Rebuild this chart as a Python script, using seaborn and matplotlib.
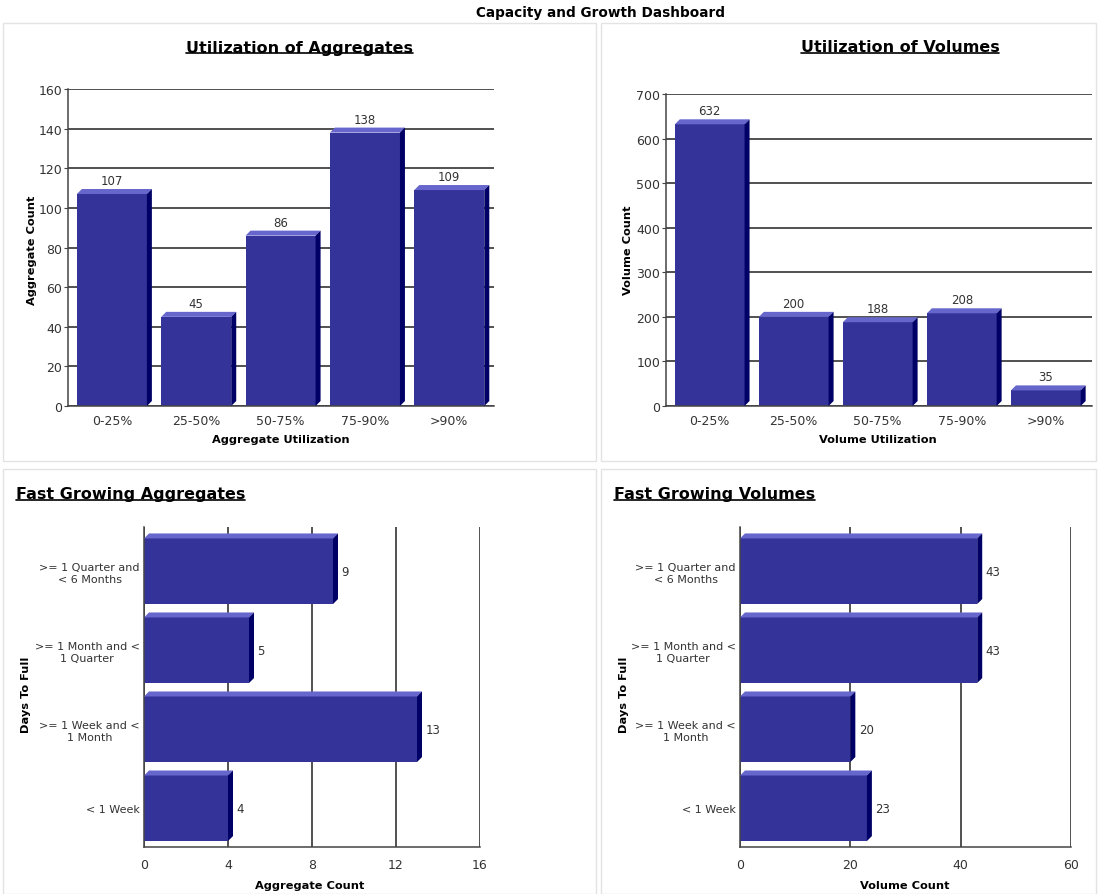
import seaborn as sns
import matplotlib.pyplot as plt
from matplotlib.patches import Polygon, Rectangle
from matplotlib.lines import Line2D

# --- data ---
util_bins = ["0-25%", "25-50%", "50-75%", "75-90%", ">90%"]
aggr_util = [107, 45, 86, 138, 109]
vol_util = [632, 200, 188, 208, 35]

days_bins = [">= 1 Quarter and\n< 6 Months", ">= 1 Month and <\n1 Quarter",
             ">= 1 Week and <\n1 Month", "< 1 Week"]
aggr_growth = [9, 5, 13, 4]
vol_growth = [43, 43, 20, 23]

FRONT = "#333399"
TOP = "#6666cc"
SIDE = "#000066"
TXT = "#333333"

sns.set_style("white")
plt.rcParams["font.family"] = ["DejaVu Sans"]

W, H = 1099, 895
fig = plt.figure(figsize=(W / 100, H / 100), dpi=100)


def fx(x):
    return x / W


def fy(y):
    return 1 - y / H


def px_axes(l, t, r, b):
    return fig.add_axes([fx(l), fy(b), (r - l) / W, (b - t) / H])


def add_depth(ax, d=5):
    # fake the 3D look: light top face + dark right face on every bar
    pos = ax.get_position()
    x0, x1 = ax.get_xlim()
    y0, y1 = ax.get_ylim()
    dx = d * (x1 - x0) / (pos.width * W)
    dy = d * (y1 - y0) / (pos.height * H)
    for p in list(ax.patches):
        p.set_linewidth(0)
        x, y, w, h = p.get_x(), p.get_y(), p.get_width(), p.get_height()
        yt, yb = (y + h, y) if dy > 0 else (y, y + h)
        ax.add_patch(Polygon([(x, yt), (x + w, yt), (x + w + dx, yt + dy), (x + dx, yt + dy)],
                             closed=True, fc=TOP, ec="none", lw=0, zorder=3))
        ax.add_patch(Polygon([(x + w, yb), (x + w, yt), (x + w + dx, yt + dy), (x + w + dx, yb + dy)],
                             closed=True, fc=SIDE, ec="none", lw=0, zorder=3))


# panel frames
for (l, t, r, b) in [(3, 24, 596, 462), (601, 24, 1096, 462), (3, 470, 596, 895), (601, 470, 1096, 895)]:
    fig.add_artist(Rectangle((fx(l), fy(b)), (r - l) / W, (b - t) / H, transform=fig.transFigure,
                             fill=False, ec="#e3e3e3", lw=1))

fig.text(fx(601), fy(13), "Capacity and Growth Dashboard", ha="center", va="center",
         fontsize=9.8, fontweight="bold", color="black")


def vertical_panel(ax, values, yticks, ylim, xlim):
    sns.barplot(x=util_bins, y=values, color=FRONT, saturation=1, width=0.83, ax=ax,
                zorder=2, linewidth=0)
    ax.set_ylim(*ylim)
    ax.set_xlim(*xlim)
    ax.set_yticks(yticks)
    ax.yaxis.grid(True, color="#222222", lw=1.1)
    ax.set_axisbelow(True)
    for s in ["top", "right"]:
        ax.spines[s].set_visible(False)
    for s in ["left", "bottom"]:
        ax.spines[s].set_color("#444444")
        ax.spines[s].set_linewidth(1.1)
    ax.tick_params(axis="x", length=0, pad=6, labelsize=9, labelcolor=TXT)
    ax.tick_params(axis="y", left=True, length=3, pad=1, labelsize=9, labelcolor=TXT, color="#444444")
    ax.set_xlabel("")
    ax.set_ylabel("")
    add_depth(ax)
    ax.bar_label(ax.containers[0], padding=5, fontsize=8.5, color=TXT)


def horizontal_panel(ax, values, xticks, xlim):
    sns.barplot(x=values, y=days_bins, orient="h", color=FRONT, saturation=1, width=0.83, ax=ax,
                zorder=2, linewidth=0)
    ax.set_xlim(*xlim)
    ax.set_ylim(3.49, -0.56)
    ax.set_xticks(xticks)
    ax.xaxis.grid(True, color="#222222", lw=1.1)
    ax.set_axisbelow(True)
    for s in ["top", "right"]:
        ax.spines[s].set_visible(False)
    for s in ["left", "bottom"]:
        ax.spines[s].set_color("#444444")
        ax.spines[s].set_linewidth(1.1)
    ax.tick_params(axis="x", length=0, pad=8, labelsize=9, labelcolor=TXT)
    ax.tick_params(axis="y", length=0, pad=3, labelsize=8, labelcolor=TXT)
    for lab in ax.get_yticklabels():
        lab.set_multialignment("center")
    ax.set_xlabel("")
    ax.set_ylabel("")
    add_depth(ax)
    ax.bar_label(ax.containers[0], padding=6, fontsize=8.5, color=TXT)


ax1 = px_axes(68, 90, 494, 407)
vertical_panel(ax1, aggr_util, range(0, 161, 20), (0, 160), (-0.52, 4.53))
ax2 = px_axes(666, 95, 1092, 407)
vertical_panel(ax2, vol_util, range(0, 701, 100), (0, 700), (-0.52, 4.55))
ax3 = px_axes(144, 528, 480, 848)
horizontal_panel(ax3, aggr_growth, range(0, 17, 4), (0, 16))
ax4 = px_axes(740, 528, 1071, 848)
horizontal_panel(ax4, vol_growth, range(0, 61, 20), (0, 60))

# axis titles
lab = dict(fontsize=8.2, fontweight="bold", color="black")
fig.text(fx(32), fy(250), "Aggregate Count", rotation=90, ha="center", va="center", **lab)
fig.text(fx(628), fy(250), "Volume Count", rotation=90, ha="center", va="center", **lab)
fig.text(fx(26), fy(695), "Days To Full", rotation=90, ha="center", va="center", **lab)
fig.text(fx(624), fy(695), "Days To Full", rotation=90, ha="center", va="center", **lab)
fig.text(fx(281), fy(440), "Aggregate Utilization", ha="center", va="center", **lab)
fig.text(fx(878), fy(440), "Volume Utilization", ha="center", va="center", **lab)
fig.text(fx(310), fy(886), "Aggregate Count", ha="center", va="center", **lab)
fig.text(fx(905), fy(886), "Volume Count", ha="center", va="center", **lab)

# panel titles, underlined
ttl = dict(fontsize=11.5, fontweight="bold", color="black", va="center")
titles = [
    fig.text(fx(299), fy(48), "Utilization of Aggregates", ha="center", **ttl),
    fig.text(fx(900), fy(48), "Utilization of Volumes", ha="center", **ttl),
    fig.text(fx(16), fy(495), "Fast Growing Aggregates", ha="left", **ttl),
    fig.text(fx(614), fy(495), "Fast Growing Volumes", ha="left", **ttl),
]
fig.canvas.draw()
renderer = fig.canvas.get_renderer()
for t in titles:
    bb = t.get_window_extent(renderer).transformed(fig.transFigure.inverted())
    fig.add_artist(Line2D([bb.x0, bb.x1], [bb.y0 + 1.5 / H, bb.y0 + 1.5 / H], transform=fig.transFigure,
                          color="black", lw=1.2))

fig.savefig("out.png", dpi=100)
